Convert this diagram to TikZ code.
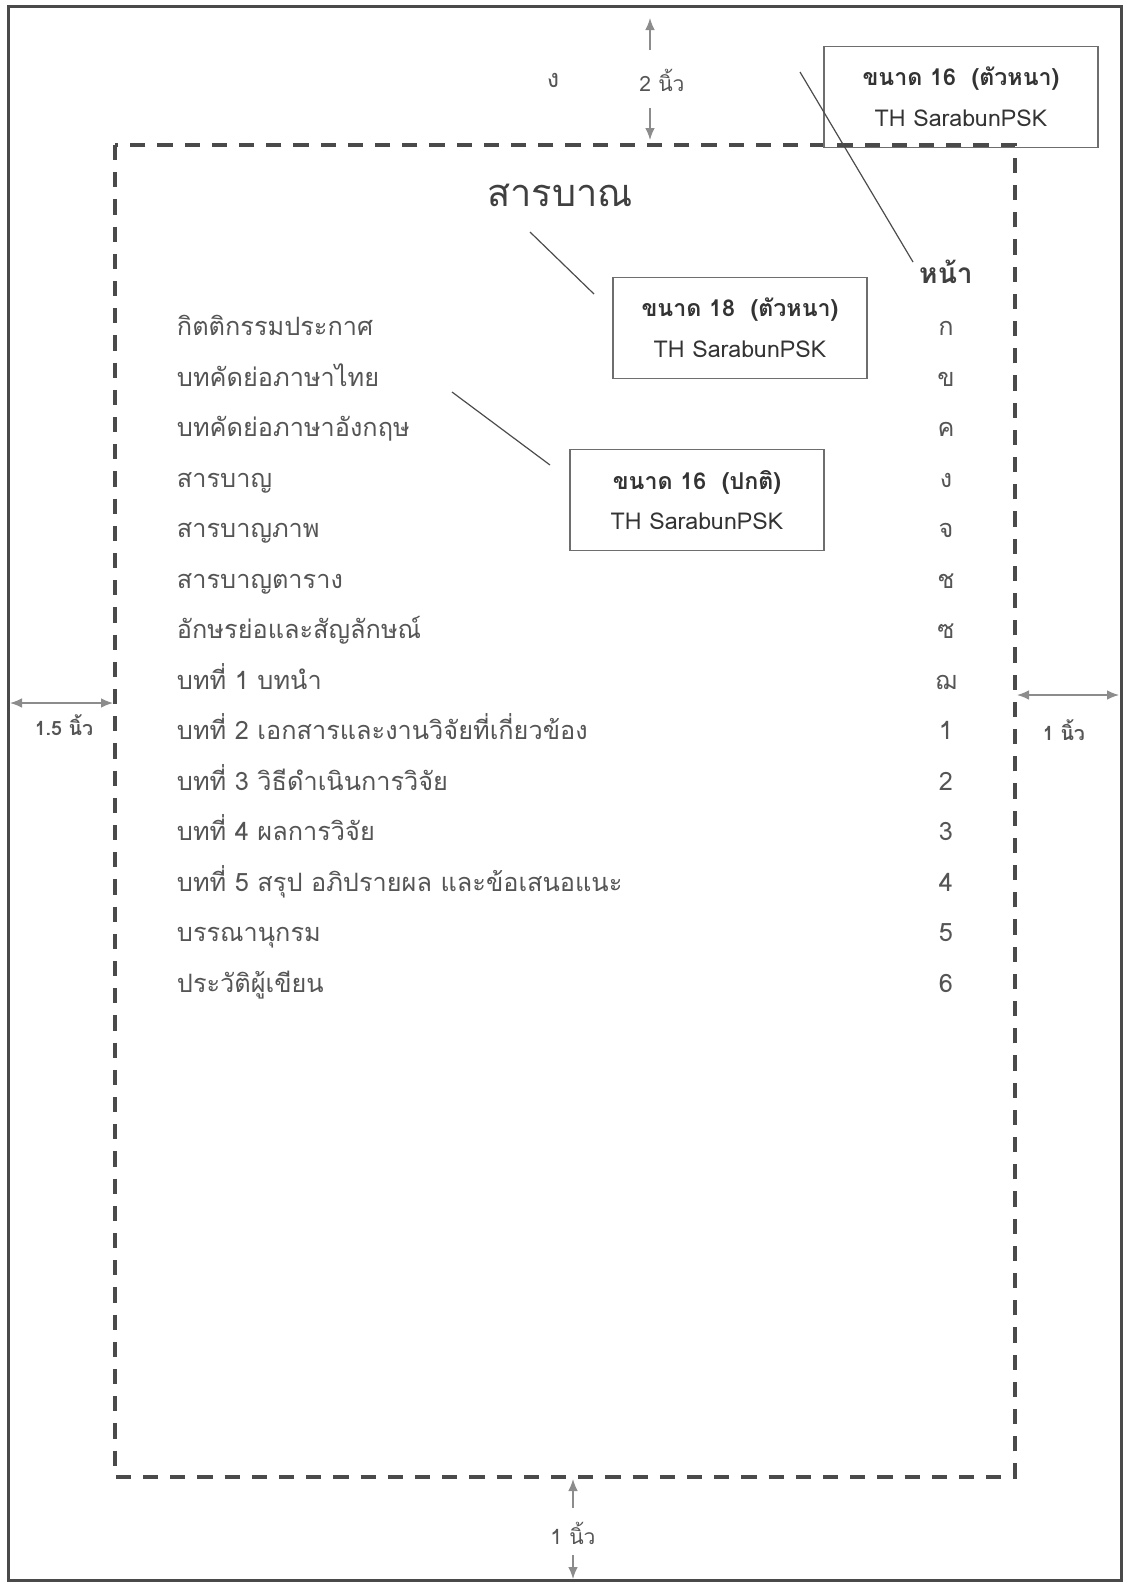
\documentclass[tikz,border=0pt]{standalone}
\usepackage{fontspec}
\setmainfont[Script=Thai]{Loma}
\usetikzlibrary{arrows.meta}
\definecolor{framegray}{HTML}{4A4A4A}
\definecolor{textgray}{HTML}{555555}
\definecolor{boxgray}{HTML}{6E6E6E}
\definecolor{arrowgray}{HTML}{8C8C8C}
\tikzset{
  outer/.style={draw=framegray, line width=0.75mm},
  margin/.style={draw=framegray, line width=1mm, dash pattern=on 3.8mm off 3mm},
  note/.style={draw=boxgray, line width=0.4mm, minimum width=63.5mm, minimum height=25.3mm, align=center, text=black!80, font=\fontsize{16.5}{19}\selectfont},
  dim/.style={draw=arrowgray, line width=0.35mm},
  tip/.style={-{Latex[length=3mm,width=2.4mm]}},
  item/.style={anchor=base west, text=textgray, font=\fontsize{18}{21}\selectfont},
  pg/.style={anchor=base, text=textgray, font=\fontsize{18}{21}\selectfont},
  small/.style={text=textgray, font=\fontsize{15}{17}\selectfont},
  pointer/.style={draw=black!70, line width=0.3mm}
}
\begin{document}
\begin{tikzpicture}[x=0.25mm,y=-0.25mm]
  \useasboundingbox (0,0) rectangle (1126,1583);
  \draw[outer] (8,6) rectangle (1121,1580);
  \draw[margin] (115,145) rectangle (1015,1477);

  \node[font=\fontsize{27}{30}\selectfont, text=black!75] (toc) at (560,195) {สารบาณ};
  \node[font=\bfseries\fontsize{20}{23}\selectfont, text=black!75] (head) at (946,272) {หน้า};
  \foreach \t [count=\i] in {กิตติกรรมประกาศ, บทคัดย่อภาษาไทย, บทคัดย่อภาษาอังกฤษ, สารบาญ, สารบาญภาพ, สารบาญตาราง, อักษรย่อและสัญลักษณ์, บทที่ 1 บทนำ, บทที่ 2 เอกสารและงานวิจัยที่เกี่ยวข้อง, บทที่ 3 วิธีดำเนินการวิจัย, บทที่ 4 ผลการวิจัย, บทที่ 5 สรุป อภิปรายผล และข้อเสนอแนะ, บรรณานุกรม, ประวัติผู้เขียน}
    \node[item] (it\i) at (172,285+50.5*\i) {\t};
  \foreach \p [count=\i] in {ก,ข,ค,ง,จ,ช,ซ,ฌ,1,2,3,4,5,6}
    \node[pg] (pg\i) at (946,285+50.5*\i) {\p};

  \node[note, minimum width=68.5mm] (n16b) at (961,97) {\bfseries ขนาด 16\ \ (ตัวหนา)\\[10pt] TH SarabunPSK};
  \node[note] (n18b) at (740,328) {\bfseries ขนาด 18\ \ (ตัวหนา)\\[10pt] TH SarabunPSK};
  \node[note] (n16) at (697,500) {\bfseries ขนาด 16\ \ (ปกติ)\\[10pt] TH SarabunPSK};

  \coordinate (c1) at (800,72);
  \coordinate (c2) at (913,262);
  \coordinate (a1) at (530,232);
  \coordinate (a2) at (594,294);
  \coordinate (b1) at (452,392);
  \coordinate (b2) at (550,465);
  \draw[pointer] (c1)--(c2);
  \draw[pointer] (a1)--(a2);
  \draw[pointer] (b1)--(b2);

  \node[small, font=\fontsize{18}{20}\selectfont] (ng) at (553,80) {ง};
  \node[small] (top) at (662,80) {2 นิ้ว};
  \coordinate (t0) at (650,50);
  \coordinate (t1) at (650,18);
  \coordinate (t2) at (650,108);
  \coordinate (t3) at (650,140);
  \draw[dim,tip] (t0)--(t1);
  \draw[dim,tip] (t2)--(t3);

  \node[small, font=\bfseries\fontsize{14}{16}\selectfont] (left) at (64,725) {1.5 นิ้ว};
  \coordinate (l0) at (10,703);
  \coordinate (l1) at (113,703);
  \draw[dim,{Latex[length=3mm,width=2.4mm]}-{Latex[length=3mm,width=2.4mm]}] (l0)--(l1);

  \node[small, font=\bfseries\fontsize{14}{16}\selectfont] (right) at (1064,730) {1 นิ้ว};
  \coordinate (r0) at (1017,695);
  \coordinate (r1) at (1119,695);
  \draw[dim,{Latex[length=3mm,width=2.4mm]}-{Latex[length=3mm,width=2.4mm]}] (r0)--(r1);

  \node[small] (bottom) at (573,1533) {1 นิ้ว};
  \coordinate (d0) at (573,1508);
  \coordinate (d1) at (573,1479);
  \coordinate (d2) at (573,1555);
  \coordinate (d3) at (573,1579);
  \draw[dim,tip] (d0)--(d1);
  \draw[dim,tip] (d2)--(d3);
\end{tikzpicture}
\end{document}
